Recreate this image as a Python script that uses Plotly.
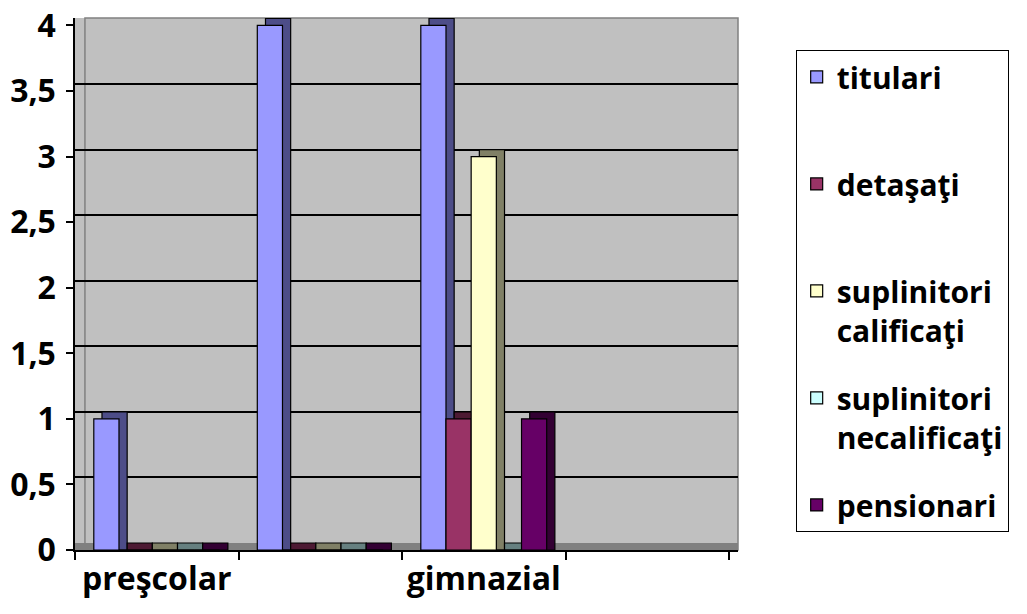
import plotly.graph_objects as go

# ---- data ----
categories = ["preşcolar", "primar", "gimnazial", "liceal"]
tick_labels = ["preşcolar", "", "gimnazial", ""]
series_names = ["titulari<br> ", "detaşaţi<br> ", "suplinitori<br>calificaţi",
                "suplinitori<br>necalificaţi", "pensionari"]
titulari = [1, 4, 4, None]
detasati = [0, 0, 1, None]
supl_calificati = [0, 0, 3, None]
supl_necalificati = [0, 0, 0, None]
pensionari = [0, 0, 1, None]
y_ticks = [0, 0.5, 1, 1.5, 2, 2.5, 3, 3.5, 4]

series_values = [titulari, detasati, supl_calificati, supl_necalificati, pensionari]
face_colors = ["#9999FF", "#993366", "#FFFFCC", "#CCFFFF", "#660066"]
side_colors = ["#4D4D88", "#4D1A33", "#808066", "#668080", "#330033"]

# ---- geometry (3D look) ----
Y_MAX = 4.057
DEPTH_Y = 0.0533   # depth in y units
DEPTH_X = 0.05     # depth in category units
BAR_W = 0.154
GROUP_START = -0.385
FONT = "Open Sans"
PAGE_PAD = 8       # default body margin of the html page

fig = go.Figure()
for i, (name, vals) in enumerate(zip(series_names, series_values)):
    off = GROUP_START + i * BAR_W
    shadow_y = [None if v is None else v + DEPTH_Y for v in vals]
    fig.add_trace(go.Bar(
        x=categories, y=shadow_y, base=0, offset=off + DEPTH_X, width=BAR_W,
        marker=dict(color=side_colors[i], line=dict(color="black", width=1.2)),
        showlegend=False, hoverinfo="skip", legendgroup=f"g{i}"))
    fig.add_trace(go.Bar(
        x=categories, y=vals, offset=off, width=BAR_W, name=name,
        marker=dict(color=face_colors[i], line=dict(color="black", width=1.2)),
        legendgroup=f"g{i}"))

# invisible trace for the back-wall grid axis
fig.add_trace(go.Scatter(x=[categories[0]], y=[None], yaxis="y2",
                         showlegend=False, hoverinfo="skip"))

fig.update_layout(
    width=1027 - PAGE_PAD, height=614 - PAGE_PAD,
    margin=dict(l=75 - PAGE_PAD, r=289, t=18 - PAGE_PAD, b=64, autoexpand=False),
    paper_bgcolor="white",
    plot_bgcolor="#C0C0C0",
    barmode="overlay",
    separators=", ",
    font=dict(family=FONT, size=32, color="black", weight="bold"),
    xaxis=dict(
        type="category", categoryorder="array", categoryarray=categories,
        range=[-0.5, 3.555], tickson="boundaries",
        tickvals=categories, ticktext=tick_labels, tickangle=0,
        ticks="outside", ticklen=8, tickwidth=1.5, tickcolor="black",
        showline=True, linecolor="black", linewidth=1.5,
        showgrid=False, ticklabelstandoff=0, automargin=False,
        ticklabeloverflow="allow",
        tickfont=dict(family=FONT, size=32, weight="bold"),
    ),
    yaxis=dict(
        range=[0, Y_MAX], tickvals=y_ticks,
        ticks="outside", ticklen=7, tickwidth=1.5, tickcolor="black",
        showline=True, linecolor="black", linewidth=1.5,
        showgrid=False, zeroline=False, ticklabelstandoff=4, automargin=False,
        ticklabeloverflow="allow",
        tickfont=dict(family=FONT, size=32, weight="bold"),
    ),
    yaxis2=dict(
        overlaying="y", anchor="x", range=[-DEPTH_Y, Y_MAX - DEPTH_Y],
        tickvals=y_ticks[1:-1], showticklabels=False, ticks="",
        showgrid=True, gridcolor="black", gridwidth=1.5,
        showline=False, zeroline=False, automargin=False,
    ),
    legend=dict(
        x=1.087, y=0.94, xanchor="left", yanchor="top",
        bordercolor="black", borderwidth=1, bgcolor="white",
        font=dict(family=FONT, size=30, weight="bold"),
        tracegroupgap=26, valign="top",
        entrywidth=200, entrywidthmode="pixels",
    ),
    shapes=[
        dict(type="rect", xref="paper", yref="y", x0=0, x1=1, y0=0, y1=DEPTH_Y,
             fillcolor="#808080", line=dict(width=0), layer="below"),
        dict(type="rect", xref="paper", yref="paper", x0=0.015, x1=1, y0=0, y1=1,
             fillcolor="rgba(0,0,0,0)", line=dict(color="#808080", width=1.5),
             layer="below"),
    ],
)

fig.write_html("out.html")
